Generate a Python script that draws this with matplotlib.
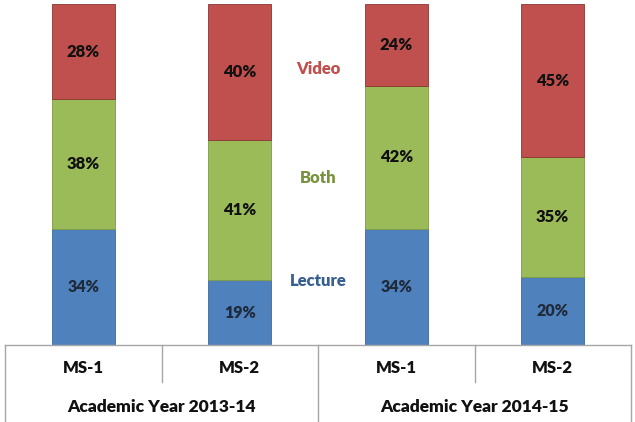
import numpy as np
import matplotlib.pyplot as plt

categories = ['MS-1', 'MS-2', 'MS-1', 'MS-2']
groups = ['Academic Year 2013-14', 'Academic Year 2014-15']
lecture = [34, 19, 34, 20]
both = [38, 41, 42, 35]
video = [28, 40, 24, 45]

plt.rcParams['font.family'] = ['Lato', 'DejaVu Sans']

fig = plt.figure(figsize=(6.35, 4.22), dpi=100)
ax = fig.add_axes([5 / 635, 77 / 422, 626 / 635, 341 / 422])

x = np.arange(len(categories))
w = 0.4
lec = np.array(lecture)
bth = np.array(both)
vid = np.array(video)
ax.bar(x, lec, w, color='#4F81BD', edgecolor='#3d6a9e', linewidth=0.6)
ax.bar(x, bth, w, bottom=lec, color='#9BBB59', edgecolor='#7e9a45', linewidth=0.6)
ax.bar(x, vid, w, bottom=lec + bth, color='#C0504D', edgecolor='#8a3532', linewidth=0.6)

for i in range(len(x)):
    ax.text(x[i], lec[i] / 2, f'{lecture[i]}%', ha='center', va='center',
            fontsize=11.5, fontweight='heavy', color='#1f2a3a')
    ax.text(x[i], lec[i] + bth[i] / 2, f'{both[i]}%', ha='center', va='center',
            fontsize=12, fontweight='heavy', color='#111111')
    ax.text(x[i], lec[i] + bth[i] + vid[i] / 2, f'{video[i]}%', ha='center', va='center',
            fontsize=12, fontweight='heavy', color='#111111')

# series labels in the middle
ax.text(1.5, 81, 'Video', ha='center', va='center', fontsize=12, fontweight='heavy', color='#C0504D')
ax.text(1.5, 49, 'Both', ha='center', va='center', fontsize=12, fontweight='heavy', color='#77933C')
ax.text(1.5, 18.8, 'Lecture', ha='center', va='center', fontsize=12, fontweight='heavy', color='#376092')

ax.set_xlim(-0.5, 3.5)
ax.set_ylim(0, 100)
ax.set_xticks([])
ax.set_yticks([])
for s in ['top', 'left', 'right']:
    ax.spines[s].set_visible(False)
ax.spines['bottom'].set_color('#a6a6a6')
ax.spines['bottom'].set_linewidth(1.0)

# category table below the bars
tr = ax.get_xaxis_transform()
lc = '#a6a6a6'
for xb in [-0.5, 1.5, 3.5]:
    ax.plot([xb, xb], [0, -0.226], transform=tr, color=lc, lw=1.0, clip_on=False)
for xb in [0.5, 2.5]:
    ax.plot([xb, xb], [0, -0.108], transform=tr, color=lc, lw=1.0, clip_on=False)

for i in range(len(x)):
    ax.text(x[i], -0.068, categories[i], transform=tr, ha='center', va='center',
            fontsize=12, fontweight='heavy', color='#111111')
for j in range(len(groups)):
    ax.text(0.5 + 2 * j, -0.183, groups[j], transform=tr, ha='center', va='center',
            fontsize=12.5, fontweight='heavy', color='#111111')

fig.savefig('out.png', dpi=100)
